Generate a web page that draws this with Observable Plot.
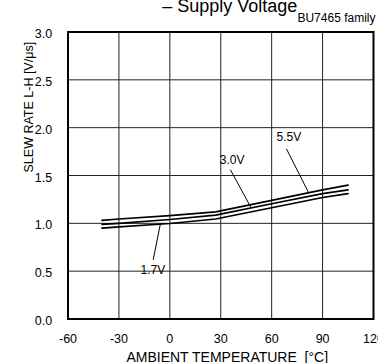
<!DOCTYPE html>
<html>
<head>
<meta charset="utf-8">
<script src="https://cdn.jsdelivr.net/npm/d3@7"></script>
<script src="https://cdn.jsdelivr.net/npm/@observablehq/plot@0.6"></script>
<style>
  html, body { margin: 0; padding: 0; background: #fff; overflow: hidden; }
  svg { overflow: hidden; }
</style>
</head>
<body>
<script>
// Data
const temps = [-40, -30, 0, 27, 60, 90, 105];
const v55 = [1.03, 1.045, 1.08, 1.12, 1.24, 1.35, 1.40];
const v30 = [0.99, 1.0, 1.04, 1.085, 1.205, 1.31, 1.35];
const v17 = [0.95, 0.962, 0.998, 1.045, 1.163, 1.27, 1.31];
const seriesNames = ["5.5V", "3.0V", "1.7V"];
const xTicks = [-60, -30, 0, 30, 60, 90, 120];
const yTicks = [0, 0.5, 1.0, 1.5, 2.0, 2.5, 3.0];
const labelX = [70.1, 36.7, -10.0];
const labelY = [1.90, 1.657, 0.507];
const leaderX1 = [68.7, 35.7, -5.5];
const leaderY1 = [1.779, 1.560, 1.001];
const leaderX2 = [81.9, 47.9, -9.8];
const leaderY2 = [1.315, 1.162, 0.619];
const titleText = "– Supply Voltage";
const subtitleText = "BU7465 family";
const xLabel = "AMBIENT TEMPERATURE  [°C]";
const yLabel = "SLEW RATE L-H [V/μs]";

const allSeries = [v55, v30, v17];
const lineData = allSeries.flatMap((vals, i) =>
  vals.map((v, j) => ({series: seriesNames[i], t: temps[j], v})));
const labels = seriesNames.map((s, i) => ({s, x: labelX[i], y: labelY[i],
  x1: leaderX1[i], y1: leaderY1[i], x2: leaderX2[i], y2: leaderY2[i]}));

const chart = Plot.plot({
  width: 378,
  height: 363,
  marginLeft: 67.5,
  marginRight: 5,
  marginTop: 31.5,
  marginBottom: 44.5,
  style: {fontFamily: "'Liberation Sans', Arial, sans-serif", fontSize: "12px", background: "#fff", color: "#000"},
  x: {domain: [-60, 120]},
  y: {domain: [0, 3]},
  marks: [
    Plot.gridX(xTicks, {stroke: "#222", strokeOpacity: 1, strokeWidth: 1}),
    Plot.gridY(yTicks, {stroke: "#222", strokeOpacity: 1, strokeWidth: 1}),
    Plot.axisX({ticks: xTicks, tickSize: 0, tickPadding: 15.5, fontSize: 12.5, label: null, tickFormat: d => String(d)}),
    Plot.axisY({ticks: yTicks, tickSize: 0, tickPadding: 15.8, fontSize: 12.5, label: null, dy: 2, tickFormat: d => d.toFixed(1)}),
    Plot.frame({stroke: "#000", strokeWidth: 2}),
    Plot.line(lineData, {x: "t", y: "v", z: "series", stroke: "#000", strokeWidth: 1.7}),
    Plot.link(labels, {x1: "x1", y1: "y1", x2: "x2", y2: "y2", stroke: "#000", strokeWidth: 1}),
    Plot.text(labels, {x: "x", y: "y", text: "s", fontSize: 12, fill: "#000"}),
    Plot.text([titleText], {frameAnchor: "top", lineAnchor: "middle", dx: 9, dy: -25.3, fontSize: 18, fill: "#000"}),
    Plot.text([subtitleText], {frameAnchor: "top-right", lineAnchor: "middle", textAnchor: "end", dx: 2, dy: -13.6, fontSize: 12, fill: "#000"}),
    Plot.text([xLabel], {frameAnchor: "bottom", lineAnchor: "middle", dx: 6.5, dy: 39, fontSize: 14, fill: "#000"}),
    Plot.text([yLabel], {frameAnchor: "left", lineAnchor: "middle", rotate: -90, dx: -39.5, dy: -3, fontSize: 12.5, fill: "#000"})
  ]
});
document.body.appendChild(chart);
</script>
</body>
</html>
